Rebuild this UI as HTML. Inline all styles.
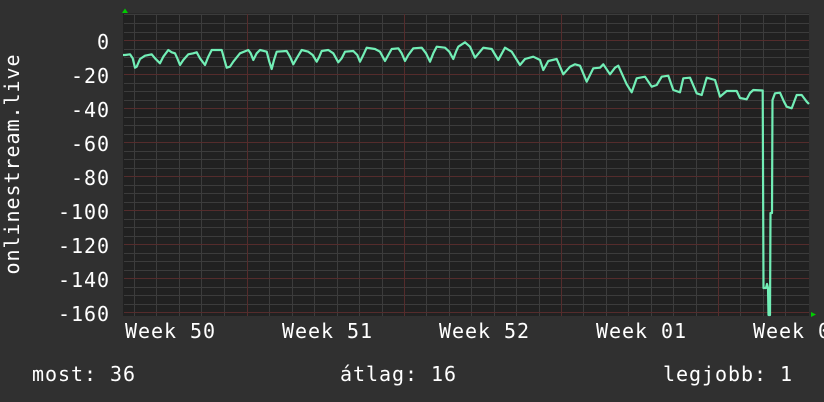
<!DOCTYPE html>
<html><head><meta charset="utf-8"><style>
html,body{margin:0;padding:0;background:#303030;}
svg{display:block;}
text{font-family:"DejaVu Sans Mono","Liberation Mono",monospace;font-size:20px;fill:#ffffff;letter-spacing:0.96px;}
</style></head><body>
<svg width="824" height="402" viewBox="0 0 824 402" xmlns="http://www.w3.org/2000/svg">
<rect x="0" y="0" width="824" height="402" fill="#303030"/>
<rect x="123" y="13.5" width="686" height="302.5" fill="#212121"/>
<g fill="#3c3c3c" shape-rendering="crispEdges">
<rect x="124" y="14" width="685" height="1"/><rect x="124" y="23" width="685" height="1"/><rect x="124" y="32" width="685" height="1"/>
<rect x="124" y="49" width="685" height="1"/><rect x="124" y="57" width="685" height="1"/><rect x="124" y="66" width="685" height="1"/>
<rect x="124" y="83" width="685" height="1"/><rect x="124" y="91" width="685" height="1"/><rect x="124" y="100" width="685" height="1"/>
<rect x="124" y="117" width="685" height="1"/><rect x="124" y="125" width="685" height="1"/><rect x="124" y="134" width="685" height="1"/>
<rect x="124" y="151" width="685" height="1"/><rect x="124" y="159" width="685" height="1"/><rect x="124" y="168" width="685" height="1"/>
<rect x="124" y="185" width="685" height="1"/><rect x="124" y="193" width="685" height="1"/><rect x="124" y="202" width="685" height="1"/>
<rect x="124" y="219" width="685" height="1"/><rect x="124" y="227" width="685" height="1"/><rect x="124" y="236" width="685" height="1"/>
<rect x="124" y="253" width="685" height="1"/><rect x="124" y="261" width="685" height="1"/><rect x="124" y="270" width="685" height="1"/>
<rect x="124" y="287" width="685" height="1"/><rect x="124" y="295" width="685" height="1"/><rect x="124" y="304" width="685" height="1"/>
<rect x="134" y="14" width="1" height="302"/><rect x="156" y="14" width="1" height="302"/><rect x="179" y="14" width="1" height="302"/>
<rect x="201" y="14" width="1" height="302"/><rect x="224" y="14" width="1" height="302"/><rect x="269" y="14" width="1" height="302"/>
<rect x="292" y="14" width="1" height="302"/><rect x="314" y="14" width="1" height="302"/><rect x="337" y="14" width="1" height="302"/>
<rect x="359" y="14" width="1" height="302"/><rect x="382" y="14" width="1" height="302"/><rect x="426" y="14" width="1" height="302"/>
<rect x="449" y="14" width="1" height="302"/><rect x="471" y="14" width="1" height="302"/><rect x="494" y="14" width="1" height="302"/>
<rect x="516" y="14" width="1" height="302"/><rect x="539" y="14" width="1" height="302"/><rect x="583" y="14" width="1" height="302"/>
<rect x="606" y="14" width="1" height="302"/><rect x="628" y="14" width="1" height="302"/><rect x="651" y="14" width="1" height="302"/>
<rect x="673" y="14" width="1" height="302"/><rect x="696" y="14" width="1" height="302"/><rect x="740" y="14" width="1" height="302"/>
<rect x="763" y="14" width="1" height="302"/><rect x="785" y="14" width="1" height="302"/>
</g>
<g fill="#552c2c" shape-rendering="crispEdges">
<rect x="124" y="40" width="685" height="1"/><rect x="124" y="74" width="685" height="1"/><rect x="124" y="108" width="685" height="1"/>
<rect x="124" y="142" width="685" height="1"/><rect x="124" y="176" width="685" height="1"/><rect x="124" y="210" width="685" height="1"/>
<rect x="124" y="244" width="685" height="1"/><rect x="124" y="278" width="685" height="1"/><rect x="124" y="312" width="685" height="1"/>
<rect x="247" y="14" width="1" height="302"/><rect x="404" y="14" width="1" height="302"/>
<rect x="561" y="14" width="1" height="302"/><rect x="718" y="14" width="1" height="302"/>
</g>
<path fill="none" stroke="#72eeb6" stroke-width="2.2" stroke-linejoin="round" d="
M123 55 L125 55 L130 54.3 L132.7 58.3 L135 67.7 L136.7 66.7 L140 59 L145 55.7 L151.7 54.3 L155 58.3 L160 63.3 L163.3 56.7 L168.3 50 L171.7 52.3 L175 53.3 L177.3 58.3 L180 65 L183.3 60 L188.3 54.3 L193.3 53.3 L196.7 52.3 L200 58.3 L205 65 L208.3 56.7 L211.7 50 L221.7 50 L224 58.3 L226.7 67.7 L230 66.7 L233.3 61.7 L240 53.3 L248.3 50 L250.7 53.3 L253.3 60 L256.7 53.3 L260 50 L266.7 51.7 L269.3 61.7 L271.7 69 L274 60 L276.7 51.7 L286.7 51 L290 56.7 L293.3 64.3 L296.7 58.3 L301.7 50 L308.3 51.7 L312.7 55 L316.7 61.7 L319.3 56.7 L321.7 51 L328.3 50 L333.3 53.3 L338.3 62.3 L341.7 58.3 L345 51.7 L353.3 51 L357.3 55 L360 61.7 L363.3 55 L366.7 47.7 L375 49 L380 51.7 L385 61 L388.3 55 L391.7 49 L398.3 48.3 L401.7 53.3 L405 61 L408.3 55 L413.3 48.3 L421.7 47.7 L426 53.3 L430 61.7 L433.3 53.3 L436.7 46.7 L445 47.7 L449.3 51.7 L453.3 59 L456 51.7 L458.3 46.7 L465 42.3 L470 46.7 L475 57.7 L483.3 47.7 L491.7 49 L498.3 60 L505 47.7 L511.7 51.7 L520 65 L525 59 L533.3 56.7 L540 60 L543.3 70 L548.3 61 L556.7 59 L563.3 74.3 L570 66.7 L575 64.3 L580 65.7 L586.7 81.7 L593.3 68.3 L600 67.7 L603.3 64.3 L610 74.3 L615 67.7 L618.3 65.7 L626.7 84.3 L631.7 92.3 L636.7 78.3 L645 76.7 L651.7 86.7 L656.7 85 L661.7 76.7 L668.3 75.7 L673.3 90 L680 92.3 L683.3 78.3 L690 77.7 L696.7 93.3 L701.7 95 L706.7 77.7 L715 80 L720 96.7 L726.7 91 L736.7 91 L740 98 L746.7 99.3 L750 93 L753.3 90 L762.7 90.5 L763.5 288 L766 288 L767 284 L768 288 L768.5 315 L770 315 L770.5 213 L772 213 L772.5 100 L775 93.3 L780 92.7 L784 101.7 L786.7 106.7 L791.7 108.3 L796.7 95 L801.7 95 L806.7 101.7 L809 104"/>
<polygon points="122,13 128,13 125,8.5" fill="#00cc00"/>
<polygon points="811,312 811,317 816,314.5" fill="#00cc00"/>
<g text-anchor="end">
<text x="110" y="49">0</text>
<text x="110" y="83">-20</text>
<text x="110" y="117">-40</text>
<text x="110" y="151">-60</text>
<text x="110" y="185">-80</text>
<text x="110" y="219">-100</text>
<text x="110" y="253">-120</text>
<text x="110" y="287">-140</text>
<text x="110" y="321">-160</text>
</g>
<text transform="translate(19,164) rotate(-90)" text-anchor="middle">onlinestream.live</text>
<text x="125" y="338">Week 50</text>
<text x="282" y="338">Week 51</text>
<text x="439" y="338">Week 52</text>
<text x="596" y="338">Week 01</text>
<text x="753" y="338">Week 01</text>
<text x="32" y="381">most: 36</text>
<text x="340" y="381">átlag: 16</text>
<text x="663" y="381">legjobb: 1</text>
</svg>
</body></html>
